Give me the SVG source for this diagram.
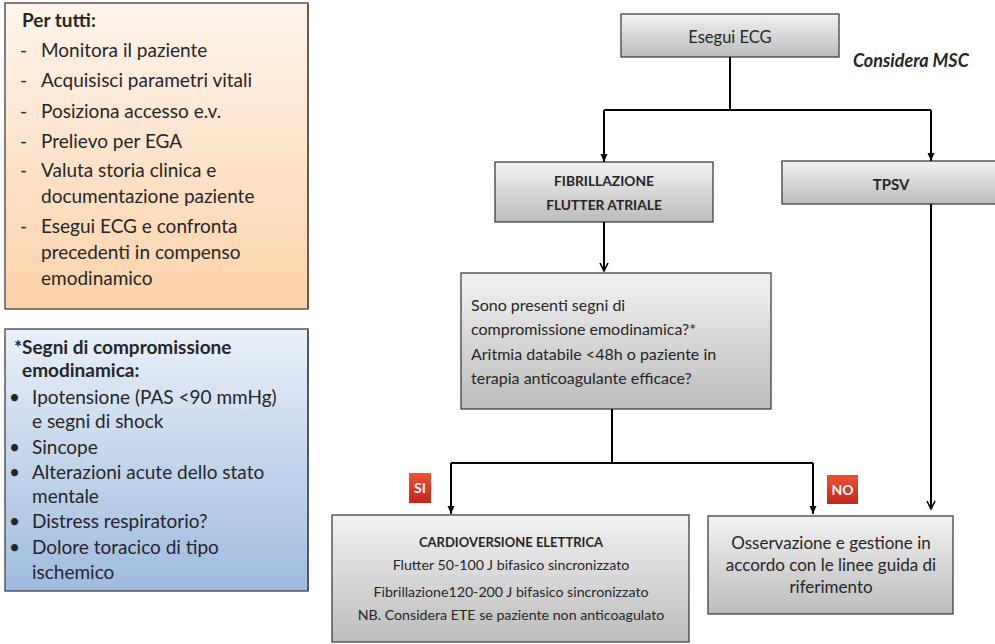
<svg xmlns="http://www.w3.org/2000/svg" width="995" height="644" viewBox="0 0 995 644">
  <defs>
    <linearGradient id="gOrange" x1="0" y1="0" x2="0" y2="1">
      <stop offset="0" stop-color="#fff4ec"/>
      <stop offset="1" stop-color="#fcd2a8"/>
    </linearGradient>
    <linearGradient id="gBlue" x1="0" y1="0" x2="0" y2="1">
      <stop offset="0" stop-color="#e9f0f9"/>
      <stop offset="1" stop-color="#9fbbe0"/>
    </linearGradient>
    <linearGradient id="gGray" x1="0" y1="0" x2="0" y2="1">
      <stop offset="0" stop-color="#f2f2f2"/>
      <stop offset="1" stop-color="#bcbcbc"/>
    </linearGradient>
    <linearGradient id="gRed" x1="0" y1="0" x2="0" y2="1">
      <stop offset="0" stop-color="#ee5233"/>
      <stop offset="1" stop-color="#c2261c"/>
    </linearGradient>
    <marker id="tri" viewBox="0 0 8 8" refX="8" refY="4" markerWidth="8" markerHeight="8" markerUnits="userSpaceOnUse" orient="auto">
      <path d="M0 0.5 L8 4 L0 7.5 Z" fill="#000"/>
    </marker>
    <marker id="vee" viewBox="0 0 10 10" refX="9" refY="5" markerWidth="10" markerHeight="10" markerUnits="userSpaceOnUse" orient="auto">
      <path d="M1 1 L9 5 L1 9" fill="none" stroke="#000" stroke-width="1.6"/>
    </marker>
  </defs>
  <style>
    .box { stroke: #3f3f3f; stroke-width: 1.3; }
    .t { font-family: Lato, "Liberation Sans", sans-serif; fill: #262626; }
    .side { font-size: 19px; }
    .b { font-weight: bold; }
    .mid { text-anchor: middle; }
    .wire { fill: none; stroke: #000; stroke-width: 2; }
  </style>

  <!-- general checklist -->
  <g id="per-tutti">
    <rect x="5" y="3" width="303" height="306" fill="url(#gOrange)" class="box"/>
    <line x1="308" y1="4" x2="308" y2="309" stroke="#6b5a4a" stroke-width="2"/>
    <text class="t side b" x="22" y="27" font-size="18">Per tutti:</text>
    <g class="t side">
      <text x="20" y="57">-</text><text x="41" y="57">Monitora il paziente</text>
      <text x="20" y="87">-</text><text x="41" y="87">Acquisisci parametri vitali</text>
      <text x="20" y="118">-</text><text x="41" y="118">Posiziona accesso e.v.</text>
      <text x="20" y="148">-</text><text x="41" y="148">Prelievo per EGA</text>
      <text x="20" y="177">-</text><text x="41" y="177">Valuta storia clinica e</text>
      <text x="41" y="203">documentazione paziente</text>
      <text x="20" y="233">-</text><text x="41" y="233">Esegui ECG e confronta</text>
      <text x="41" y="259">precedenti in compenso</text>
      <text x="41" y="285">emodinamico</text>
    </g>
  </g>

  <!-- signs of haemodynamic compromise -->
  <g id="segni">
    <rect x="5" y="329" width="303" height="262" fill="url(#gBlue)" class="box"/>
    <line x1="308" y1="330" x2="308" y2="591" stroke="#4a5a70" stroke-width="2"/>
    <text class="t side b" x="14" y="354">*Segni di compromissione</text>
    <text class="t side b" x="22" y="377">emodinamica:</text>
    <g class="t side">
      <text x="9" y="404">•</text><text x="32" y="404">Ipotensione (PAS &lt;90 mmHg)</text>
      <text x="32" y="428">e segni di shock</text>
      <text x="9" y="454">•</text><text x="32" y="454">Sincope</text>
      <text x="9" y="479">•</text><text x="32" y="479">Alterazioni acute dello stato</text>
      <text x="32" y="503">mentale</text>
      <text x="9" y="528">•</text><text x="32" y="528">Distress respiratorio?</text>
      <text x="9" y="554">•</text><text x="32" y="554">Dolore toracico di tipo</text>
      <text x="32" y="579">ischemico</text>
    </g>
  </g>

  <!-- flowchart nodes -->
  <g id="ecg">
    <rect x="621" y="14" width="218" height="43" fill="url(#gGray)" class="box"/>
    <text class="t mid" x="730" y="43" font-size="16.5">Esegui ECG</text>
  </g>

  <g id="msc">
    <text class="t b" x="853" y="67" font-size="18" font-style="italic">Considera MSC</text>
  </g>

  <g id="fibrillazione">
    <rect x="495" y="162" width="218" height="60" fill="url(#gGray)" class="box"/>
    <text class="t b mid" x="604" y="186" font-size="13.8">FIBRILLAZIONE</text>
    <text class="t b mid" x="604" y="210" font-size="13.8">FLUTTER ATRIALE</text>
  </g>

  <g id="tpsv">
    <rect x="782" y="161" width="220" height="43" fill="url(#gGray)" class="box"/>
    <text class="t b mid" x="891" y="190" font-size="15">TPSV</text>
  </g>

  <g id="domanda">
    <rect x="461" y="273" width="310" height="136" fill="url(#gGray)" class="box"/>
    <g class="t" font-size="16">
      <text x="471" y="311">Sono presenti segni di</text>
      <text x="471" y="335">compromissione emodinamica?*</text>
      <text x="471" y="360">Aritmia databile &lt;48h o paziente in</text>
      <text x="471" y="384">terapia anticoagulante efficace?</text>
    </g>
  </g>

  <g id="cardioversione">
    <rect x="332" y="515" width="357" height="127" fill="url(#gGray)" class="box"/>
    <g class="t mid" font-size="14.2">
      <text class="b" x="511" y="547" font-size="13">CARDIOVERSIONE ELETTRICA</text>
      <text x="511" y="570">Flutter 50-100 J bifasico sincronizzato</text>
      <text x="511" y="597">Fibrillazione120-200 J bifasico sincronizzato</text>
      <text x="511" y="620">NB. Considera ETE se paziente non anticoagulato</text>
    </g>
  </g>

  <g id="osservazione">
    <rect x="708" y="516" width="245" height="98" fill="url(#gGray)" class="box"/>
    <g class="t mid" font-size="17">
      <text x="831" y="549">Osservazione e gestione in</text>
      <text x="831" y="571">accordo con le linee guida di</text>
      <text x="831" y="593">riferimento</text>
    </g>
  </g>

  <g id="si">
    <rect x="409" y="473" width="22" height="30" fill="url(#gRed)"/>
    <text class="b mid" x="420" y="493" font-family="Lato, 'Liberation Sans', sans-serif" font-size="14" fill="#fff">SI</text>
  </g>

  <g id="no">
    <rect x="827" y="475" width="31" height="29" fill="url(#gRed)"/>
    <text class="b mid" x="842.5" y="494.5" font-family="Lato, 'Liberation Sans', sans-serif" font-size="14" fill="#fff">NO</text>
  </g>

  <!-- connectors -->
  <g id="connectors">
    <path class="wire" d="M730 57 V110" stroke-width="3"/>
    <path class="wire" d="M604 110 H931"/>
    <path class="wire" d="M604 110 V162" marker-end="url(#tri)"/>
    <path class="wire" d="M931 110 V161" marker-end="url(#tri)"/>
    <path class="wire" d="M604 222 V271" marker-end="url(#vee)"/>
    <path class="wire" d="M612 409 V463"/>
    <path class="wire" d="M451 463 H813"/>
    <path class="wire" d="M451 463 V514" marker-end="url(#tri)"/>
    <path class="wire" d="M813 463 V514" marker-end="url(#tri)"/>
    <path class="wire" d="M931 204 V509" marker-end="url(#vee)"/>
  </g>
</svg>
